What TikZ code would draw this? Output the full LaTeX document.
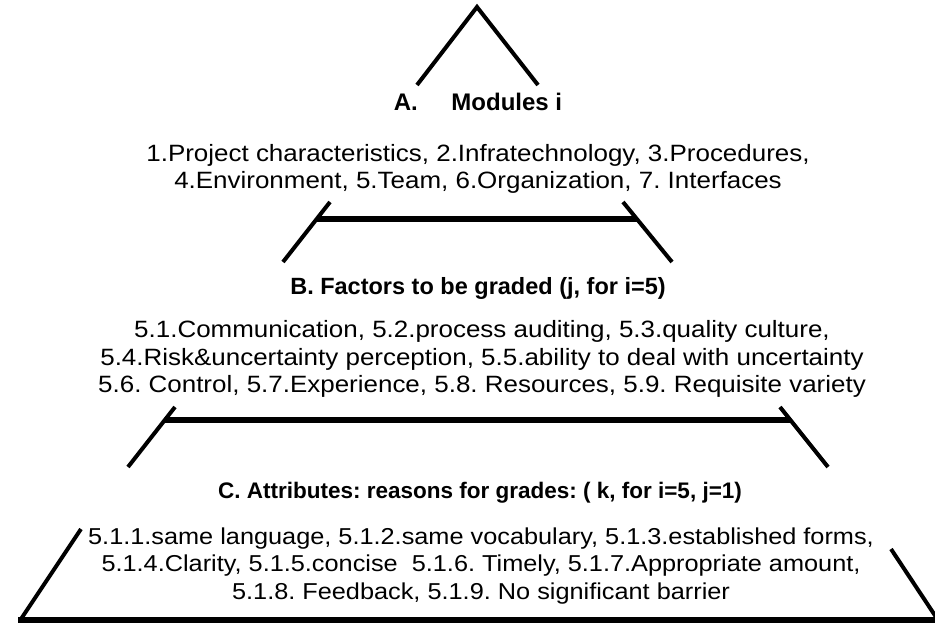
\documentclass[tikz,border=0pt]{standalone}
\usepackage{fontspec}
\setmainfont{Liberation Sans}
\newfontfamily\bodyfont[FakeStretch=1.1]{Liberation Sans}
\frenchspacing

\begin{document}
\begin{tikzpicture}[x=1pt,y=-1pt,
  edge/.style={line width=4pt},
  bar/.style={line width=6pt},
  head/.style={font=\fontsize{23.5}{27}\selectfont\bfseries, inner sep=0pt},
  body/.style={font=\bodyfont\fontsize{23.6}{27.5}\selectfont, align=center, inner sep=0pt}
]
  \useasboundingbox (0,0) rectangle (935,623);
  \clip (0,0) rectangle (935,623);

  \draw[edge, miter limit=4] (417,85) -- (477,7) -- (538,85);
  \draw[edge] (330,202) -- (283,262);
  \draw[edge] (623,202) -- (672,262);
  \draw[bar]  (317,219) -- (637,219);
  \draw[edge] (175,407) -- (128,467);
  \draw[edge] (780,407) -- (828,467);
  \draw[bar]  (165,420) -- (790,420);
  \draw[edge] (81,529) -- (21,619);
  \draw[edge] (891,549) -- (938,620);
  \draw[bar]  (18,620) -- (940,620);

  \node[head, font=\fontsize{24}{27}\selectfont\bfseries] (modhead) at (478,102)
    {A.\hspace{1.4em}Modules i};
  \node[body] (modlist)  at (478,169)
    {1.Project characteristics, 2.Infratechnology, 3.Procedures,\\
     4.Environment, 5.Team, 6.Organization, 7. Interfaces};
  \node[head] (facthead) at (478,288) {B. Factors to be graded (j, for i=5)};
  \node[body] (factlist) at (482,359)
    {5.1.Communication, 5.2.process auditing, 5.3.quality culture,\\
     5.4.Risk\&uncertainty perception, 5.5.ability to deal with uncertainty\\
     5.6. Control, 5.7.Experience, 5.8. Resources, 5.9. Requisite variety};
  \node[head, font=\fontsize{22.5}{27}\selectfont\bfseries] (attrhead) at (480,493)
    {C. Attributes: reasons for grades: ( k, for i=5, j=1)};
  \node[body, font=\bodyfont\fontsize{23}{27.5}\selectfont] (attrlist) at (481,566)
    {5.1.1.same language, 5.1.2.same vocabulary, 5.1.3.established forms,\\
     5.1.4.Clarity, 5.1.5.concise\ \ 5.1.6. Timely, 5.1.7.Appropriate amount,\\
     5.1.8. Feedback, 5.1.9. No significant barrier};
\end{tikzpicture}
\end{document}
